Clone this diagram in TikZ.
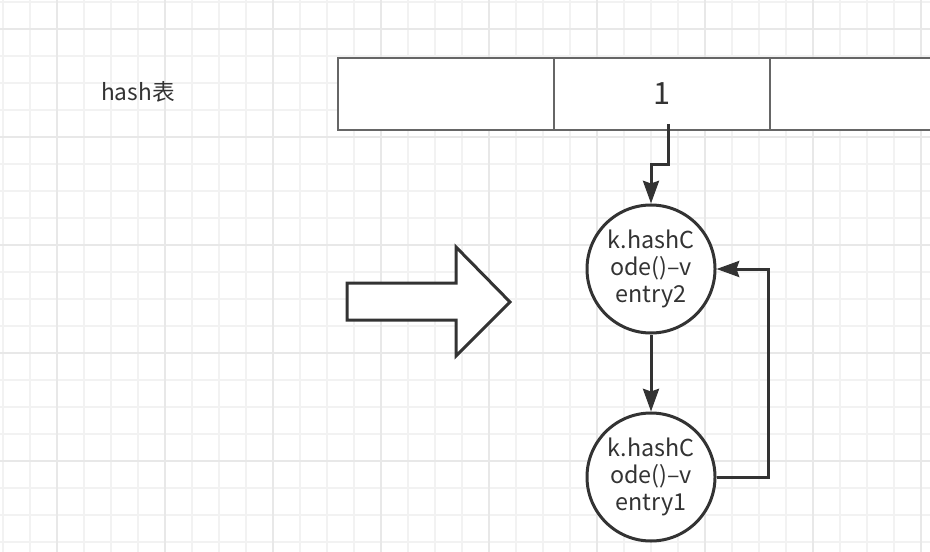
\documentclass[tikz,border=0pt]{standalone}
\usepackage{fontspec}
\setmainfont{Noto Sans CJK SC}
\usetikzlibrary{arrows.meta}
\definecolor{ink}{HTML}{333333}
\definecolor{rule}{HTML}{666666}
\definecolor{gridminor}{HTML}{F2F2F2}
\definecolor{gridmajor}{HTML}{E8E8E8}

\begin{document}
\begin{tikzpicture}[x=0.75pt,y=-0.75pt,
    cell/.style={draw=rule,line width=1.1pt,fill=white,minimum width=162pt,minimum height=54pt,inner sep=0pt,text=ink,font=\fontsize{23}{26}\selectfont},
    entry/.style={circle,draw=ink,line width=2.25pt,fill=white,minimum size=96pt,inner sep=0pt,align=center,text=ink,font=\fontsize{17.5}{20.25}\selectfont},
    link/.style={draw=ink,line width=2.25pt,-{Stealth[length=17pt,width=12pt,inset=2pt]}}]
    \useasboundingbox (0,0) rectangle (930,552);
    \clip (0,0) rectangle (930,552);
    % Grid
    \foreach \x in {3,30,...,930} \draw[gridminor,line width=0.8pt] (\x,0) -- (\x,552);
    \foreach \y in {2,29,...,552} \draw[gridminor,line width=0.8pt] (0,\y) -- (930,\y);
    \foreach \x in {57,165,...,930} \draw[gridmajor,line width=0.8pt] (\x,0) -- (\x,552);
    \foreach \y in {29,137,...,552} \draw[gridmajor,line width=0.8pt] (0,\y) -- (930,\y);
    % Nodes
    \node (title) at (138,92) [text=ink,font=\fontsize{17}{20}\selectfont] {hash表};
    \node (c0) at (446,94) [cell] {};
    \node (c1) at (662,94) [cell] {1};
    \node (c2) at (878,94) [cell] {};
    \node (e2) at (651,269) [entry] {k.hashC\\ode()–v\\entry2};
    \node (e1) at (651,477) [entry] {k.hashC\\ode()–v\\entry1};
    \coordinate (src) at (668,124);
    % Big arrow
    \draw[ink,line width=2.25pt,fill=white,line join=miter]
        (347,283) -- (456,283) -- (456,247) -- (510,302) -- (456,356) -- (456,320) -- (347,320) -- cycle;
    % Edges
    \path[link] (src) -- (668,165) -| (e2.north);
    \path[link] (e2.south) -- (e1.north);
    \path[link] (e1.east) -- (768,477) |- (e2.east);
\end{tikzpicture}
\end{document}
